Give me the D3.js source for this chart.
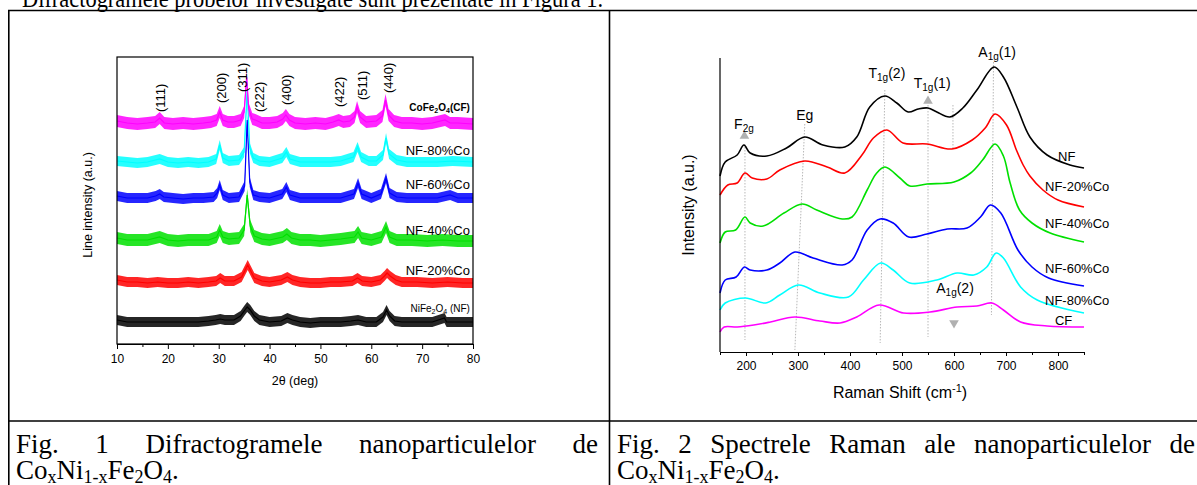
<!DOCTYPE html>
<html><head><meta charset="utf-8">
<script src="https://cdn.jsdelivr.net/npm/d3@7"></script>
<style>body{margin:0;background:#fff}svg{display:block}text{font-family:"Liberation Sans",Arial,sans-serif}</style>
</head><body><svg id="c" width="1197" height="485"></svg>
<script>
// ---------------- DATA ----------------
// XRD (2θ, intensity a.u.)
const xrdNames = ["NiFe2O4 (NF)","NF-20%Co","NF-40%Co","NF-60%Co","NF-80%Co","CoFe2O4(CF)"];
const xrdColors = ["#000000","#ff0000","#00e000","#0000ff","#00ffff","#ff00ff"];
const xrdNoise = [5,5,6,5,5,6];
const xrdNF = [[10,24],[12,22],[14,22],[16,22],[18,22],[20,22],[22,22],[24,22],[26,22],[28,23],[29.4,24],[30.3,25],[31.2,24],[33,24],[34.3,28],[35.0,33],[35.6,37],[36.2,34],[37,28],[38,24],[40,22],[42.3,23],[43.5,26],[44.5,24],[46,22],[48,21],[50,22],[52,22],[54,22],[56,23],[57.4,24],[59,22],[61,22],[62.3,27],[63.0,34],[63.6,28],[64.6,23],[66,22],[69,22],[72,22],[74.4,26],[74.8,22],[77,22],[80,22]];
const xrd20 = [[10,64],[12,62],[14,62],[16,61],[18,62],[20,61],[22,61],[24,62],[26,61],[28,62],[29.5,63],[30.3,66],[31.2,63],[33,63],[34.5,67],[35.2,74],[35.7,79],[36.3,73],[37,66],[38.5,63],[40,62],[42.3,64],[43.5,67],[44.5,64],[46,62],[48,61],[50,61],[52,62],[54,62],[56.3,63],[57.3,66],[58.2,63],[60,62],[61.8,64],[62.6,68],[63.1,71],[63.7,68],[64.8,64],[66,62],[69,62],[72,61],[75,62],[78,61],[80,61]];
const xrd40 = [[10,106],[12,104],[14,104],[16,104],[18.4,107],[20,104],[22,103],[24,104],[26,104],[28,104],[29.6,107],[30.2,114],[30.8,107],[32,105],[34,106],[35.0,114],[35.6,149],[36.2,118],[37,108],[38.5,105],[40,104],[42.6,107],[43.4,110],[44.3,106],[46,104],[48,104],[50,103],[52,104],[54,105],[56.7,107],[57.4,112],[58.1,106],[60,104],[62,107],[62.9,117],[63.6,107],[65,104],[68,104],[71,103],[74,104],[77,103],[80,103]];
const xrd60 = [[10,148],[12,146],[14,146],[16,146],[17.6,148],[18.4,150],[19.2,147],[21,146],[23,145],[25,146],[27,146],[29,147],[29.7,151],[30.2,159],[30.8,149],[32,146],[34,147],[35.1,158],[35.6,224],[36.1,162],[36.8,149],[38,147],[40,146],[42.5,150],[43.3,157],[44.0,149],[46,146],[48,146],[50,146],[52,146],[54,146],[56.6,150],[57.4,161],[58.1,150],[60,146],[61.9,150],[62.9,166],[63.6,151],[65,147],[67,146],[70,146],[73,146],[75.5,149],[77,146],[80,146]];
const xrd80 = [[10,183],[12,182],[14,181],[16,182],[18.4,185],[20,182],[22,181],[24,182],[26,181],[28,182],[29.5,185],[30.2,199],[30.8,186],[32,183],[34,184],[35.0,192],[35.6,254],[36.1,196],[36.8,186],[38,183],[40,182],[42.5,186],[43.3,192],[44,185],[46,182],[48,182],[50,182],[52,182],[54,183],[56.5,187],[57.3,197],[58,187],[59.5,183],[61,183],[62.3,189],[62.9,206],[63.5,190],[65,184],[67,182],[70,182],[73,182],[76,183],[80,182]];
const xrdCF = [[10,223],[12,221],[14,220],[16,221],[17.5,222],[18.4,226],[19.3,221],[21,220],[23,221],[25,220],[27,221],[28.5,222],[29.6,224],[30.2,232],[30.8,224],[31.8,222],[33,222],[34.3,224],[35.0,232],[35.5,267],[35.9,235],[36.6,225],[37.2,224],[38.5,221],[40,221],[41.5,222],[42.6,225],[43.2,229],[43.9,224],[45,221],[47,220],[49,221],[51,220],[52.5,222],[53.6,224],[54.5,222],[55.8,223],[56.7,227],[57.2,237],[57.8,227],[59,222],[61,223],[62.2,228],[62.8,244],[63.4,229],[64.5,223],[66,221],[68,221],[70,220],[72,221],[74.5,224],[75.5,221],[77,221],[80,220]];
const xrdSeries = [xrdNF, xrd20, xrd40, xrd60, xrd80, xrdCF];
const xrdLabelPos = [[79.4,36],[79.4,74],[79.4,114],[79.4,160],[79.4,194],[79.4,237]];
const xrdPeakLabels = ["(111)","(200)","(311)","(222)","(400)","(422)","(511)","(440)"];
const xrdPeakPos = [[18.5,232],[30.6,241],[34.6,252],[38.1,232],[43.4,239],[53.8,237],[58.2,244],[63.3,251]];
const xrdTicks = [10,20,30,40,50,60,70,80];

// Raman (cm-1, intensity a.u.)
const ramanNames = ["NF","NF-20%Co","NF-40%Co","NF-60%Co","NF-80%Co","CF"];
const ramanColors = ["#000000","#ff0000","#00e000","#0000ff","#00ffff","#ff00ff"];
const ramanNF = [[150,176],[160,190],[183,197],[196,207],[208,199],[240,196],[278,204],[313,215],[348,207],[390,205],[413,215],[438,245],[467,256],[490,249],[512,240],[531,243],[550,244],[567,240],[592,235],[617,244],[644,262],[677,285],[695,275],[721,245],[746,215],[779,197],[823,187],[850,184]];
const raman20 = [[150,157],[165,167],[183,169],[198,179],[212,174],[240,173],[265,182],[313,191],[356,185],[390,179],[423,197],[445,214],[471,222],[502,209],[548,208],[596,203],[635,212],[660,224],[679,238],[701,227],[720,202],[733,187],[746,176],[771,162],[800,152],[850,145]];
const raman40 = [[150,109],[160,120],[180,122],[198,135],[208,129],[233,126],[273,139],[308,148],[336,142],[385,133],[404,135],[433,162],[450,178],[467,185],[496,174],[515,166],[548,168],[600,170],[632,179],[655,192],[679,208],[695,196],[708,169],[726,142],[750,129],[785,119],[850,110]];
const raman60 = [[150,59],[160,72],[181,75],[197,85],[208,82],[240,82],[265,89],[294,100],[329,94],[385,87],[404,92],[433,122],[458,133],[483,129],[513,115],[548,118],[587,123],[625,124],[651,135],[670,147],[690,139],[723,102],[750,85],[782,74],[850,66]];
const raman80 = [[150,42],[160,49],[199,54],[238,49],[265,57],[301,67],[342,59],[397,55],[426,72],[459,89],[483,82],[515,69],[567,72],[606,79],[638,77],[663,85],[681,99],[695,94],[728,65],[760,52],[850,39]];
const ramanCF = [[150,20],[158,25],[183,25],[215,27],[247,30],[294,35],[342,31],[381,29],[413,35],[456,47],[503,39],[554,40],[606,45],[644,46],[673,49],[695,42],[728,30],[779,26],[850,25]];
const ramanSeries = [ramanNF, raman20, raman40, raman60, raman80, ramanCF];
const ramanLabelPos = [[800,196],[775,166],[775,129],[775,84],[775,52],[794,32]];
const ramanTicks = [200,300,400,500,600,700,800];
const ramanGuides = [[[198,208],[198,12]],[[313,228],[294,2]],[[467,262],[458,9]],[[550,247],[550,15]],[[598,247],[598,202]],[[676,290],[672,37]]];
const ramanUpMarks = [[197,216],[550,251]];
const ramanDownMarks = [[600,29]];
const ramanModes = [["F","2g",""],["Eg","",""],["T","1g","(2)"],["T","1g","(1)"],["A","1g","(1)"],["A","1g","(2)"]];
const ramanModePos = [[196,228],[313,237],[471,279],[558,269],[683,300],[602,64]];

const captionTop = "Difractogramele probelor investigate sunt prezentate în Figura 1.";
const caption1 = ["Fig. 1 Difractogramele nanoparticulelor de", "Fig. 2 Spectrele Raman ale nanoparticulelor de"];

// ---------------- DRAW ----------------
const svg = d3.select("#c");
const serif = "'Liberation Serif','Times New Roman',serif";

// page text and table
svg.append("text").attr("x",22).attr("y",7).attr("textLength",581).attr("lengthAdjust","spacingAndGlyphs")
  .style("font-family",serif).style("font-size","25px").text(captionTop);
const tbl = svg.append("g").attr("stroke","#000").attr("stroke-width",1.6);
tbl.append("line").attr("x1",8).attr("x2",1197).attr("y1",10.5).attr("y2",10.5);
tbl.append("line").attr("x1",8.8).attr("x2",8.8).attr("y1",10).attr("y2",485);
tbl.append("line").attr("x1",609.5).attr("x2",609.5).attr("y1",10).attr("y2",485);
tbl.append("line").attr("x1",8).attr("x2",1197).attr("y1",421).attr("y2",421);

function caption(x, len, first) {
  const t1 = svg.append("text").attr("x",x).attr("y",453)
    .style("font-family",serif).style("font-size","27px").text(first);
  const nat = t1.node().getComputedTextLength();
  const gaps = first.split(" ").length - 1;
  if (nat < len) t1.style("word-spacing", ((len - nat)/gaps) + "px");
  else t1.attr("textLength",len).attr("lengthAdjust","spacingAndGlyphs");
  const t = svg.append("text").attr("x",x).attr("y",479).style("font-family",serif).style("font-size","27px");
  const parts = [["Co",0],["x",1],["Ni",0],["1-x",1],["Fe",0],["2",1],["O",0],["4",1],[".",0]];
  let prev = 0;
  parts.forEach(p=>{
    const sp = t.append("tspan").attr("dy", (p[1]-prev)*4).text(p[0]);
    if (p[1]) sp.style("font-size","18px");
    prev = p[1];
  });
}
caption(16, 582, caption1[0]);
caption(617, 578, caption1[1]);

// ---------- XRD chart ----------
const xx = d3.scaleLinear().domain([10,80]).range([117,473]);
const xy = d3.scaleLinear().domain([0,287]).range([344,57]);
const gx = svg.append("g");
const band = d3.area().x(d=>xx(d[0])).curve(d3.curveLinear);
const xline = d3.line().x(d=>xx(d[0])).y(d=>xy(d[1]));
xrdSeries.forEach((s,i)=>{
  const n = xrdNoise[i];
  gx.append("path").datum(s).attr("fill",xrdColors[i]).attr("fill-opacity",0.85)
    .attr("d", band.y0(d=>xy(d[1]-n)).y1(d=>xy(d[1]+n)));
  gx.append("path").datum(s).attr("fill","none").attr("stroke",xrdColors[i]).attr("stroke-width",1.2).attr("d",xline);
});
gx.append("rect").attr("x",117).attr("y",57).attr("width",356).attr("height",287)
  .attr("fill","none").attr("stroke","#000").attr("stroke-width",1.2);
const xaxis = gx.append("g").attr("transform","translate(0,344)")
  .call(d3.axisBottom(xx).tickValues(xrdTicks).tickSize(5).tickSizeOuter(0));
gx.append("g").attr("transform","translate(0,344)")
  .call(d3.axisBottom(xx).tickValues([15,25,35,45,55,65,75]).tickSize(3).tickFormat(""))
  .select(".domain").remove();
xaxis.selectAll("text").style("font-size","12px").attr("dy","0.9em");
gx.selectAll(".domain").attr("stroke","#000");
gx.append("text").attr("x",295).attr("y",385).attr("text-anchor","middle").style("font-size","12.5px").text("2θ (deg)");
gx.append("text").attr("transform","translate(92,205) rotate(-90)").attr("text-anchor","middle")
  .style("font-size","12.5px").text("Line intensity (a.u.)");
xrdPeakLabels.forEach((l,i)=>{
  const p = xrdPeakPos[i];
  gx.append("text").attr("transform",`translate(${xx(p[0])},${xy(p[1])}) rotate(-90)`)
    .attr("dominant-baseline","central").style("font-size","13px").text(l);
});
xrdNames.forEach((nm,i)=>{
  const p = xrdLabelPos[i];
  const t = gx.append("text").attr("x",xx(p[0])).attr("y",xy(p[1])).attr("text-anchor","end")
    .attr("dominant-baseline","central");
  if (nm.startsWith("CoFe") || nm.startsWith("NiFe")) {
    const bold = nm.startsWith("CoFe");
    t.style("font-size","10px").style("font-weight", bold ? "bold":"normal");
    const a = nm.slice(0,4), rest = nm.slice(7);
    t.append("tspan").text(a);
    t.append("tspan").attr("dy",3).style("font-size","7px").text("2");
    t.append("tspan").attr("dy",-3).text("O");
    t.append("tspan").attr("dy",3).style("font-size","7px").text("4");
    t.append("tspan").attr("dy",-3).text(rest);
  } else {
    t.style("font-size","13px").text(nm);
  }
});

// ---------- Raman chart ----------
const rx = d3.scaleLinear().domain([150,850]).range([720,1084]);
const ry = d3.scaleLinear().domain([0,294]).range([352,58]);
const gr = svg.append("g");
ramanGuides.forEach(g=>{
  gr.append("line").attr("x1",rx(g[0][0])).attr("y1",ry(g[0][1])).attr("x2",rx(g[1][0])).attr("y2",ry(g[1][1]))
    .attr("stroke","#b8b8b8").attr("stroke-width",1).attr("stroke-dasharray","1.5,1.5");
});
const rline = d3.line().x(d=>rx(d[0])).y(d=>ry(d[1])).curve(d3.curveCatmullRom.alpha(0.5));
ramanSeries.forEach((s,i)=>{
  gr.append("path").datum(s).attr("fill","none").attr("stroke",ramanColors[i]).attr("stroke-width",1.6).attr("d",rline);
});
const tri = d3.symbol().type(d3.symbolTriangle).size(40);
ramanUpMarks.forEach(m=>gr.append("path").attr("d",tri()).attr("fill","#b0b0b0")
  .attr("transform",`translate(${rx(m[0])},${ry(m[1])})`));
ramanDownMarks.forEach(m=>gr.append("path").attr("d",tri()).attr("fill","#b0b0b0")
  .attr("transform",`translate(${rx(m[0])},${ry(m[1])}) rotate(180)`));
gr.append("line").attr("x1",720).attr("x2",720).attr("y1",58).attr("y2",352).attr("stroke","#000").attr("stroke-width",1.2);
const raxis = gr.append("g").attr("transform","translate(0,352)")
  .call(d3.axisBottom(rx).tickValues(ramanTicks).tickSize(4).tickSizeOuter(0));
gr.append("g").attr("transform","translate(0,352)")
  .call(d3.axisBottom(rx).tickValues([150,250,350,450,550,650,750,850]).tickSize(3).tickFormat(""))
  .select(".domain").remove();
raxis.selectAll("text").style("font-size","12px").attr("dy","0.95em");
raxis.select(".domain").attr("stroke-width",1.2);
const xl = gr.append("text").attr("x",900).attr("y",398).attr("text-anchor","middle").style("font-size","16px");
xl.append("tspan").text("Raman Shift (cm");
xl.append("tspan").attr("dy",-6).style("font-size","11px").text("-1");
xl.append("tspan").attr("dy",6).text(")");
gr.append("text").attr("transform","translate(694,205) rotate(-90)").attr("text-anchor","middle")
  .style("font-size","16px").text("Intensity (a.u.)");
ramanModes.forEach((m,i)=>{
  const p = ramanModePos[i];
  const t = gr.append("text").attr("x",rx(p[0])).attr("y",ry(p[1])).attr("text-anchor","middle")
    .attr("dominant-baseline","central").style("font-size","14px");
  t.append("tspan").text(m[0]);
  if (m[1]) t.append("tspan").attr("dy",4).style("font-size","10px").text(m[1]);
  if (m[2]) t.append("tspan").attr("dy",-4).text(m[2]);
});
ramanNames.forEach((nm,i)=>{
  const p = ramanLabelPos[i];
  gr.append("text").attr("x",rx(p[0])).attr("y",ry(p[1])).attr("dominant-baseline","central")
    .style("font-size","13px").text(nm);
});
</script></body></html>
